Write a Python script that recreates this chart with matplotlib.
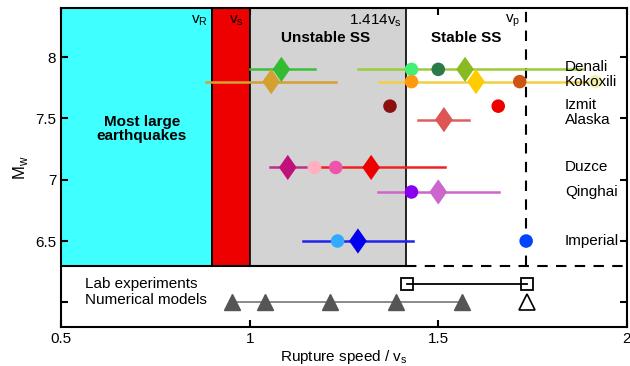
import numpy as np
import matplotlib.pyplot as plt

plt.rcParams['font.family'] = ['Liberation Sans', 'DejaVu Sans']

# speed boundaries (in units of vs)
v_r = 0.9
v_s = 1.0
v_ss = 1.414
v_p = 1.732

# earthquakes: name, magnitude
quake_names = ['Denali', 'Kokoxili', 'Izmit', 'Alaska', 'Duzce', 'Qinghai', 'Imperial']
quake_label_y = [7.92, 7.8, 7.61, 7.49, 7.1, 6.9, 6.5]

# error bars: (y, x_low, x_high, color)
bar_y = [7.9, 7.9, 7.8, 7.8, 7.49, 7.1, 7.1, 6.9, 6.5]
bar_lo = [1.0, 1.286, 0.884, 1.344, 1.447, 1.055, 1.17, 1.341, 1.141]
bar_hi = [1.174, 1.88, 1.23, 1.917, 1.582, 1.15, 1.519, 1.66, 1.432]
bar_col = ['#3cbf3c', '#9ccc3a', '#d4a030', '#f2d040', '#dd6060', '#c0308a',
           '#ee2222', '#cc66cc', '#2222ee']

# circle estimates
circ_x = [1.429, 1.5, 1.429, 1.716, 1.917, 1.372, 1.659, 1.172, 1.228, 1.429, 1.233, 1.733]
circ_y = [7.9, 7.9, 7.8, 7.8, 7.8, 7.6, 7.6, 7.1, 7.1, 6.9, 6.5, 6.5]
circ_col = ['#44ee77', '#2a7a4a', '#ff9a10', '#cc5515', '#f2f2b0', '#8b1010',
            '#ee0000', '#ffb0c0', '#ee55aa', '#8800ee', '#33aaff', '#0044ff']

# diamond estimates
dia_x = [1.084, 1.571, 1.057, 1.60, 1.515, 1.101, 1.322, 1.5, 1.287]
dia_y = [7.9, 7.9, 7.8, 7.8, 7.49, 7.1, 7.1, 6.9, 6.5]
dia_col = ['#33bb33', '#88bb22', '#d4a030', '#ffcc00', '#dd5555', '#c0107a',
           '#ee0000', '#cc66cc', '#0000ee']

# lab experiments and numerical models
lab_x = [1.416, 1.734]
lab_y = 6.15
num_x = [0.953, 1.041, 1.212, 1.387, 1.562]
num_open_x = [1.734]
num_y = 6.0

y_top = 8.4
y_sep = 6.3

fs = 11
diamond = [(0, 1), (0.7, 0), (0, -1), (-0.7, 0), (0, 1)]

fig = plt.figure(figsize=(6.3, 3.66), dpi=100)
ax = fig.add_axes([0.097, 0.107, 0.898, 0.871])

# regime bands
ax.fill_between([0.5, v_r], y_sep, y_top, color='#40ffff', edgecolor='black', linewidth=1.2, zorder=1)
ax.fill_between([v_r, v_s], y_sep, y_top, color='#ee0000', edgecolor='black', linewidth=1.2, zorder=1)
ax.fill_between([v_s, v_ss], y_sep, y_top, color='#d3d3d3', edgecolor='black', linewidth=1.2, zorder=1)
ax.plot([0.5, v_ss], [y_sep, y_sep], color='black', linewidth=1.5, zorder=2)
ax.plot([v_ss, 2.0], [y_sep, y_sep], color='black', linewidth=1.5, linestyle=(0, (5, 4)), zorder=2)
ax.plot([v_p, v_p], [y_sep, y_top], color='black', linewidth=1.5, linestyle=(0, (5, 4)), zorder=2)

# error bars
for y, lo, hi, c in zip(bar_y, bar_lo, bar_hi, bar_col):
    ax.plot([lo, hi], [y, y], color=c, linewidth=1.8, zorder=3)

ax.scatter(circ_x, circ_y, s=95, c=circ_col, marker='o', zorder=4, linewidths=0)
ax.scatter(dia_x, dia_y, s=330, c=dia_col, marker=diamond, zorder=4, linewidths=0)

# lab / numerical
ax.plot(lab_x, [lab_y] * len(lab_x), color='black', linewidth=1.3, marker='s',
        markersize=8, markerfacecolor='none', markeredgewidth=1.3, zorder=3)
ax.plot(num_x, [num_y] * len(num_x), color='#777777', linewidth=1.2, marker='^',
        markersize=11, markerfacecolor='#555555', markeredgecolor='#555555', zorder=3)
ax.plot(num_open_x, [num_y], linestyle='none', marker='^', markersize=11,
        markerfacecolor='white', markeredgecolor='black', markeredgewidth=1.2, zorder=3)

# texts
for name, y in zip(quake_names, quake_label_y):
    ax.text(1.836, y, name, fontsize=fs, ha='left', va='center', zorder=5)
ax.text(0.563, lab_y, 'Lab experiments', fontsize=fs, ha='left', va='center')
ax.text(0.563, num_y + 0.02, 'Numerical models', fontsize=fs, ha='left', va='center')

ax.text(0.714, 7.41, 'Most large\nearthquakes', fontsize=fs, fontweight='bold',
        ha='center', va='center', linespacing=1.0)
ax.text(1.2, 8.155, 'Unstable SS', fontsize=fs, fontweight='bold', ha='center', va='center')
ax.text(1.574, 8.155, 'Stable SS', fontsize=fs, fontweight='bold', ha='center', va='center')
ax.text(v_r - 0.01, 8.3, r'v$_\mathregular{R}$', fontsize=fs, ha='right', va='center')
ax.text(v_s - 0.015, 8.3, r'v$_\mathregular{s}$', fontsize=fs, ha='right', va='center')
ax.text(v_ss - 0.01, 8.3, r'1.414v$_\mathregular{s}$', fontsize=fs, ha='right', va='center')
ax.text(v_p - 0.015, 8.3, r'v$_\mathregular{p}$', fontsize=fs, ha='right', va='center')

ax.set_xlim(0.5, 2.0)
ax.set_ylim(5.8, y_top)
ax.set_xticks([0.5, 1, 1.5, 2])
ax.set_xticklabels(['0.5', '1', '1.5', '2'])
ax.set_yticks([6.0, 6.5, 7, 7.5, 8])
ax.set_yticklabels(['', '6.5', '7', '7.5', '8'])
ax.tick_params(direction='in', length=5, width=1.5, top=True, right=True, labelsize=fs)
for sp in ax.spines.values():
    sp.set_linewidth(1.5)

ax.set_xlabel(r'Rupture speed / v$_\mathregular{s}$', fontsize=fs, labelpad=2)
ax.set_ylabel(r'M$_\mathregular{w}$', fontsize=12, labelpad=4)

fig.savefig('out.png', dpi=100)
